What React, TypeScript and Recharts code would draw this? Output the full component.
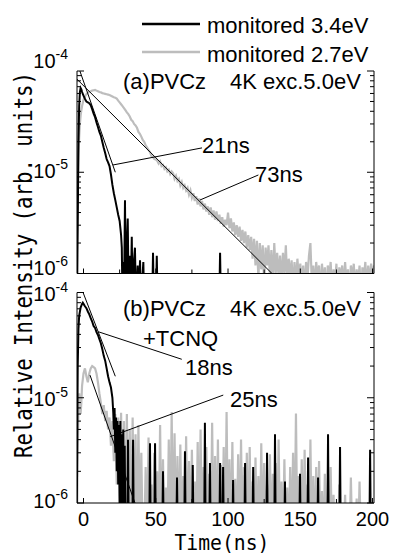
import { LineChart, Line, XAxis, YAxis, ReferenceLine } from 'recharts';

// intensities are written in units of 1e-6 (arb. units); < 1 means below the plot floor
const UNIT = 1e-6;

const timeTicks = [0, 25, 50, 75, 100, 125, 150, 175, 200];
const timeLabels = [0, 50, 100, 150, 200];
const intensityTicks = [
  1e-6, 2e-6, 3e-6, 4e-6, 5e-6, 6e-6, 7e-6, 8e-6, 9e-6,
  1e-5, 2e-5, 3e-5, 4e-5, 5e-5, 6e-5, 7e-5, 8e-5, 9e-5,
  1e-4,
];
const seriesNames = ['monitored 3.4eV', 'monitored 2.7eV'];
const seriesColors = ['#000000', '#bdbdbd'];

// (a) PVCz, monitored 3.4eV
const blackA: [number, number][] = [
  [-5, 0.4], [-4.5, 0.5], [-4, 3], [-3.5, 20], [-3, 45], [-2.5, 62], [-2, 68], [-1.5, 66], [-1, 62],
  [0, 57], [1, 53], [2, 50], [3, 49], [4, 48], [5, 46], [6, 42], [7, 38], [8, 35], [9, 31],
  [10, 28], [11, 25], [12, 23], [13, 20], [14, 17.5], [15, 15.5], [16, 13.5], [17, 12.5], [18, 11.5],
  [19, 9.5], [20, 7.5], [21, 6.2], [22, 5.3], [23, 4.5], [24, 3.8], [25, 3.3], [26, 2.4], [26.5, 1.8],
  [27, 0.5], [27.5, 1.3], [28, 0.5], [28.7, 5.3], [29.3, 0.5], [30, 2], [30.6, 3.5], [31.3, 0.5],
  [32, 1.5], [32.6, 0.5], [33.4, 2.3], [34, 0.5], [35, 1.4], [35.6, 1.8], [36.3, 0.5], [37.5, 1.2],
  [38.3, 0.5], [39.1, 1.35], [39.8, 0.5], [41.4, 1.3], [42, 0.5], [47.5, 0.5], [48.1, 1.6], [48.7, 0.5],
  [50.1, 0.5], [50.7, 1.5], [51.3, 0.5], [93.9, 0.5], [94.5, 1.6], [95.1, 0.5], [201, 0.4],
];

// (a) PVCz, monitored 2.7eV
const grayA: [number, number][] = [
  [-5, 0.4], [-4.5, 2], [-4, 8], [-3.5, 15], [-3, 22], [-2.5, 30], [-2, 36], [-1.5, 41], [-1, 45],
  [0, 52], [1, 56], [2, 59], [3, 61], [4, 62.5], [5, 63], [6, 64], [7, 64.5], [8, 65], [9, 64],
  [10, 63], [11, 62], [12, 61.5], [13, 60.5], [14, 60], [15, 59.5], [16, 59], [17, 58.5], [18, 58],
  [19, 57], [20, 56], [21, 55], [22, 54.5], [23, 53.5], [24, 51], [25, 49], [26, 47], [27, 45],
  [28, 43], [29, 41], [30, 39], [31, 37.5], [32, 35.5], [33, 33], [34, 32], [35, 30], [36, 29],
  [37, 27.5], [38, 25], [39, 24], [40, 22.5], [41, 20.8], [42, 20], [43, 18.5], [44, 17.5], [45, 16.5],
  [46, 15.8], [47, 14.5], [48, 14.2], [49, 13.5], [50, 13.4], [51, 13], [52, 12.2], [53, 12.8],
  [54, 11.5], [55, 11.8], [56, 10.8], [57, 11.2], [58, 10.2], [59, 10.6], [60, 9.6], [61, 10.2],
  [62, 9.8], [63, 8.6], [64, 9.2], [65, 8.2], [66, 8.6], [67, 7.4], [68, 8], [69, 7], [70, 7.4],
  [71, 6.6], [72, 7], [73, 6], [74, 6.6], [75, 5.6], [76, 6.2], [77, 5.2], [78, 5.8], [79, 4.8],
  [80, 5.5], [81, 4.6], [82, 5.2], [83, 4.3], [84, 4.9], [85, 4.1], [86, 4.6], [87, 3.8], [88, 4.5],
  [89, 3.6], [90, 4.2], [91, 3.4], [92, 4.1], [93, 3.3], [94, 3.8], [95, 3.1], [96, 3.6], [97, 2.9],
  [98, 3.4], [99, 3], [100, 4], [101, 2.8], [102, 3.5], [103, 2.6], [104, 3.2], [105, 2.4], [106, 3],
  [107, 2.3], [108, 2.9], [109, 2.1], [110, 2.7], [111, 2], [112, 2.6], [113, 1.8], [114, 2.4],
  [115, 1.7], [116, 2.3], [117, 1.4], [118, 2.2], [119, 1.2], [120, 2.1], [121, 0.9], [122, 2],
  [123, 1.1], [124, 1.9], [125, 0.8], [126, 1.8], [127, 1.2], [128, 1.9], [129, 0.9], [130, 1.7],
  [131, 0.8], [132, 2], [133, 1], [134, 1.6], [135, 0.9], [136, 1.5], [137, 0.8], [138, 1.6], [139, 1],
  [140, 1.9], [141, 0.8], [142, 1.4], [143, 0.9], [144, 1.35], [145, 0.7], [146, 1.3], [147, 0.8],
  [148, 1.4], [149, 0.9], [150, 1.25], [151, 0.8], [152, 1.2], [153, 0.7], [154, 1.3], [155, 0.9],
  [156, 1.5], [157, 2], [158, 0.8], [159, 1.2], [160, 0.7], [161, 1.3], [162, 0.9], [163, 1.2],
  [164, 0.6], [165, 1.25], [166, 0.8], [167, 1.15], [168, 0.6], [169, 1.2], [170, 0.9], [171, 1.3],
  [172, 0.7], [173, 1.1], [174, 0.8], [175, 1.25], [176, 0.6], [177, 1.15], [178, 0.9], [179, 1.2],
  [180, 0.7], [181, 1.3], [182, 0.8], [183, 1.1], [184, 0.6], [185, 1.2], [186, 0.9], [187, 1.25],
  [188, 0.7], [189, 1.1], [190, 0.8], [191, 1.2], [192, 0.6], [193, 1.15], [194, 0.9], [195, 1.3],
  [196, 0.7], [197, 1.2], [198, 0.8], [199, 1.25], [200, 0.9], [201, 1.2],
];

// (b) PVCz + TCNQ, monitored 3.4eV
const blackB: [number, number][] = [
  [-5, 0.4], [-4.5, 1.5], [-4, 20], [-3.5, 45], [-3, 60], [-2, 72], [-1, 78], [-0.5, 80], [0, 78],
  [1, 74], [2, 71], [3, 66], [4, 62], [5, 57], [6, 53], [7, 48], [8, 46], [9, 42], [10, 39.5],
  [11, 36], [12, 33], [13, 29], [14, 25], [15, 22.5], [16, 19], [17, 16], [18, 14], [19, 12.5],
  [20, 10], [20.6, 7.2], [21, 5], [21.5, 8], [22, 3], [22.5, 6.5], [23, 2], [23.5, 6], [24, 1.5],
  [24.5, 5.5], [25, 1], [25.5, 6], [26, 0.8], [26.5, 4.5], [27, 0.6], [27.5, 5], [28, 0.5],
  [28.5, 3.5], [29, 0.5], [30.3, 0.5], [30.8, 4], [31.3, 0.5], [33.8, 0.5], [34.3, 4], [34.8, 0.5],
  [45.5, 0.5], [46, 3.7], [46.5, 0.5], [49, 0.5], [49.5, 3.7], [50, 0.5], [54.5, 0.5], [55, 2],
  [55.5, 0.5], [64.2, 0.5], [64.7, 1.75], [65.2, 0.5], [69.7, 0.5], [70.2, 3.1], [70.7, 0.5],
  [75.1, 0.5], [75.6, 2.3], [76.1, 0.5], [83.5, 0.5], [84, 5.8], [84.5, 0.5], [87, 0.5], [87.5, 2.4],
  [88, 0.5], [94, 0.5], [94.5, 2.4], [95, 0.5], [96.1, 0.5], [96.6, 2.2], [97.1, 0.5], [103, 0.5],
  [103.5, 1.65], [104, 0.5], [111.3, 0.5], [111.8, 2.4], [112.3, 0.5], [116.9, 0.5], [117.4, 2.2],
  [117.9, 0.5], [126.5, 0.5], [127, 3], [127.5, 0.5], [132, 0.5], [132.5, 4.5], [133, 0.5],
  [138.9, 0.5], [139.4, 1.6], [139.9, 0.5], [149.3, 0.5], [149.8, 1.9], [150.3, 0.5], [154.9, 0.5],
  [155.4, 2.7], [155.9, 0.5], [161.8, 0.5], [162.3, 1.75], [162.8, 0.5], [168.7, 0.5], [169.2, 4.5],
  [169.7, 0.5], [177, 0.5], [177.5, 3.4], [178, 0.5], [197.8, 0.5], [198.3, 3.2], [198.8, 0.5],
  [201, 0.4],
];

// (b) PVCz + TCNQ, monitored 2.7eV
const grayB: [number, number][] = [
  [-5, 0.4], [-4.5, 0.5], [-4, 3], [-3.5, 8], [-3, 11], [-2.5, 9], [-2, 7], [-1.5, 9], [-1, 13],
  [0, 17], [1, 19], [2, 16], [3, 14], [4, 17], [5, 19], [6, 20], [7, 19.5], [8, 19], [9, 17],
  [10, 14], [11, 11], [12, 9], [13, 7], [14, 8.5], [15, 6], [16, 7.5], [17, 5], [18, 6.5], [19, 3.5],
  [20, 6], [21, 2.5], [22, 7], [23, 1.5], [24, 6.5], [25, 1], [26, 7.2], [27, 0.7], [28, 6],
  [29, 0.5], [30, 7], [31, 0.6], [32, 5], [33, 0.5], [34, 6.5], [35, 0.5], [36, 4.5], [37, 0.4],
  [38, 5.5], [39, 0.5], [40, 3], [41, 0.4], [42, 0.4], [43, 2.2], [44, 0.4], [45, 4.2], [46, 0.4],
  [47, 1.5], [48, 0.4], [49, 3], [50, 0.4], [51, 2], [52, 0.4], [53, 5.5], [54, 0.4], [55, 2.6],
  [56, 0.4], [57, 1.4], [58, 0.4], [59, 4], [60, 0.4], [61, 7.3], [62, 0.4], [63, 4.6], [64, 0.4],
  [65, 2.8], [66, 0.4], [67, 3.6], [68, 0.4], [69, 1.8], [70, 0.4], [71, 4.3], [72, 0.4], [73, 2.5],
  [74, 0.4], [75, 3.2], [76, 0.4], [77, 1.6], [78, 0.4], [79, 3.8], [80, 0.4], [81, 5], [82, 0.4],
  [83, 2.2], [84, 0.4], [85, 3.4], [86, 0.4], [87, 1.9], [88, 0.4], [89, 5.8], [90, 0.4], [91, 2.8],
  [92, 0.4], [93, 4], [94, 0.4], [95, 2.3], [96, 0.4], [97, 3.4], [98, 0.4], [99, 7.3], [100, 0.4],
  [101, 2.6], [102, 0.4], [103, 3.8], [104, 0.4], [105, 1.7], [106, 0.4], [107, 2.9], [108, 0.4],
  [109, 4], [110, 0.4], [111, 2.2], [112, 0.4], [113, 3], [114, 0.4], [115, 3.4], [116, 0.4],
  [117, 1.6], [118, 0.4], [119, 2.7], [120, 0.4], [121, 1.8], [122, 0.4], [123, 3.7], [124, 0.4],
  [125, 2.4], [126, 0.4], [127, 1.5], [128, 0.4], [129, 2.9], [130, 0.4], [131, 1.9], [132, 0.4],
  [133, 2.4], [134, 0.4], [135, 4], [136, 0.4], [137, 1.6], [138, 0.4], [139, 2.6], [140, 0.4],
  [141, 1.4], [142, 0.4], [143, 2.2], [144, 0.4], [145, 3], [146, 0.4], [147, 7.1], [148, 0.4],
  [149, 1.8], [150, 0.4], [151, 2.6], [152, 0.4], [153, 3.2], [154, 0.4], [155, 1.5], [156, 0.4],
  [157, 4], [158, 0.4], [159, 1.8], [160, 0.4], [161, 2.2], [162, 0.4], [163, 2.5], [164, 0.4],
  [165, 1.3], [166, 0.4], [167, 1.9], [168, 0.4], [169, 0.8], [170, 0.4], [171, 2.2], [172, 0.4],
  [173, 1.2], [174, 0.4], [175, 0.7], [176, 0.4], [177, 1.5], [178, 0.4], [179, 0.6], [180, 0.4],
  [181, 1.2], [182, 0.4], [183, 0.5], [184, 0.4], [185, 1.75], [186, 0.4], [187, 0.6], [188, 0.4],
  [189, 1.1], [190, 0.4], [191, 1.6], [192, 0.4], [201, 0.4],
];

// single-exponential fits (thin lines) and the pointers from fit to label
const fitA21: [number, number][] = [[-2.5, 100], [22, 10]];
const fitA73: [number, number][] = [[-4.5, 83], [130.4, 1]];
const fitB18: [number, number][] = [[-0.3, 100], [22, 16]];
const fitB25: [number, number][] = [[4.5, 16.4], [35.6, 1]];
const pointerA21: [number, number][] = [[20.4, 11.8], [82, 17.4]];
const pointerA73: [number, number][] = [[80.6, 5.32], [121, 9.4]];
const pointerB18: [number, number][] = [[10.2, 42.4], [68, 23.2]];
const pointerB25: [number, number][] = [[18.5, 4.27], [96.7, 10.6]];

const W = 395;
const H = 554;
const SANS = 'Liberation Sans, Arial, sans-serif';
const MONO = 'DejaVu Sans Mono, monospace';

const toRows = (pts: [number, number][]) => pts.map(([t, v]) => ({ t, v: v * UNIT }));

const isDecade = (v: number) => Math.abs(Math.log10(v) - Math.round(Math.log10(v))) < 1e-6;

function XTick(props: any) {
  const { x, y, payload, dir, showLabel } = props;
  const major = payload.value % 50 === 0;
  const len = major ? 5 : 4;
  return (
    <g>
      <line x1={x} x2={x} y1={y} y2={y + dir * len} stroke="#000" strokeWidth={1} />
      {showLabel && timeLabels.includes(payload.value) && (
        <text x={x} y={y + 23} textAnchor="middle" fontFamily={SANS} fontSize={20} fill="#000">
          {payload.value}
        </text>
      )}
    </g>
  );
}

function YTick(props: any) {
  const { x, y, payload, dir, showLabel, labelDy } = props;
  const v = payload.value;
  const decade = isDecade(v);
  const len = decade ? 7 : 4;
  const exp = Math.round(Math.log10(v));
  return (
    <g>
      <line x1={x} x2={x + dir * len} y1={y} y2={y} stroke="#000" strokeWidth={1} />
      {showLabel && decade && (
        <text x={x - 9} y={y + (labelDy[exp] ?? 6)} textAnchor="end" fontFamily={SANS} fontSize={20} fill="#000">
          10
          <tspan fontSize={14} dy={-9}>{String(exp)}</tspan>
        </text>
      )}
    </g>
  );
}

interface PanelProps {
  top: number;
  height: number;
  marginTop: number;
  bottomHeight: number;
  black: [number, number][];
  gray: [number, number][];
  fits: [number, number][][];
  pointers: [number, number][][];
  labelDy: Record<number, number>;
  showTimeLabels: boolean;
}

function Panel({ top, height, marginTop, bottomHeight, black, gray, fits, pointers, labelDy, showTimeLabels }: PanelProps) {
  const xDomain: [number, number] = [-4.5, 201];
  const yDomain: [number, number] = [1e-6, 1e-4];
  return (
    <div style={{ position: 'absolute', left: 0, top }}>
      <LineChart width={W} height={height} margin={{ top: marginTop, right: 0, bottom: 0, left: 0 }}>
        <XAxis
          xAxisId="b"
          type="number"
          dataKey="t"
          domain={xDomain}
          ticks={timeTicks}
          interval={0}
          allowDataOverflow
          height={bottomHeight}
          tickSize={0}
          tickMargin={0}
          tickLine={false}
          axisLine={{ stroke: '#000' }}
          tick={(p: any) => <XTick {...p} dir={-1} showLabel={showTimeLabels} />}
        />
        <XAxis
          xAxisId="t"
          orientation="top"
          type="number"
          dataKey="t"
          domain={xDomain}
          ticks={timeTicks}
          interval={0}
          allowDataOverflow
          height={0}
          tickSize={0}
          tickMargin={0}
          tickLine={false}
          axisLine={{ stroke: '#000' }}
          tick={(p: any) => <XTick {...p} dir={1} showLabel={false} />}
        />
        <YAxis
          yAxisId="l"
          type="number"
          scale="log"
          dataKey="v"
          domain={yDomain}
          ticks={intensityTicks}
          interval={0}
          allowDataOverflow
          width={77}
          tickSize={0}
          tickMargin={0}
          tickLine={false}
          axisLine={{ stroke: '#000' }}
          tick={(p: any) => <YTick {...p} dir={1} showLabel labelDy={labelDy} />}
        />
        <YAxis
          yAxisId="r"
          orientation="right"
          type="number"
          scale="log"
          dataKey="v"
          domain={yDomain}
          ticks={intensityTicks}
          interval={0}
          allowDataOverflow
          width={21}
          tickSize={0}
          tickMargin={0}
          tickLine={false}
          axisLine={{ stroke: '#000' }}
          tick={(p: any) => <YTick {...p} dir={-1} showLabel={false} labelDy={labelDy} />}
        />
        <Line xAxisId="b" yAxisId="l" data={toRows(gray)} dataKey="v" stroke={seriesColors[1]} strokeWidth={2.2} dot={false} isAnimationActive={false} />
        <Line xAxisId="b" yAxisId="l" data={toRows(black)} dataKey="v" stroke={seriesColors[0]} strokeWidth={2} dot={false} isAnimationActive={false} />
        {fits.map((f, i) => (
          <Line key={`fit${i}`} xAxisId="b" yAxisId="l" data={toRows(f)} dataKey="v" stroke="#000" strokeWidth={1} dot={false} isAnimationActive={false} />
        ))}
        {pointers.map((p, i) => (
          <ReferenceLine
            key={`ptr${i}`}
            xAxisId="b"
            yAxisId="l"
            segment={[{ x: p[0][0], y: p[0][1] * UNIT }, { x: p[1][0], y: p[1][1] * UNIT }]}
            stroke="#000"
            strokeWidth={1}
          />
        ))}
      </LineChart>
    </div>
  );
}

export default function App() {
  return (
    <div style={{ position: 'absolute', left: 0, top: 0, width: W, height: H, background: '#fff' }}>
      <Panel
        top={0}
        height={280}
        marginTop={71}
        bottomHeight={6.5}
        black={blackA}
        gray={grayA}
        fits={[fitA21, fitA73]}
        pointers={[pointerA21, pointerA73]}
        labelDy={{ [-4]: -3, [-5]: 6, [-6]: 1 }}
        showTimeLabels={false}
      />
      <Panel
        top={270}
        height={284}
        marginTop={22.5}
        bottomHeight={51}
        black={blackB}
        gray={grayB}
        fits={[fitB18, fitB25]}
        pointers={[pointerB18, pointerB25]}
        labelDy={{ [-4]: 8, [-5]: 8, [-6]: 5 }}
        showTimeLabels
      />
      <svg width={W} height={H} style={{ position: 'absolute', left: 0, top: 0, pointerEvents: 'none' }}>
        {seriesNames.map((name, i) => (
          <g key={name}>
            <line x1={142} x2={200} y1={24 + i * 28} y2={24 + i * 28} stroke={seriesColors[i]} strokeWidth={2.5} />
            <text x={207} y={33 + i * 29} fontFamily={SANS} fontSize={22} fill="#000">{name}</text>
          </g>
        ))}
        <text x={123} y={89} fontFamily={SANS} fontSize={22}>(a)PVCz</text>
        <text x={230} y={89} fontFamily={SANS} fontSize={22}>4K exc.5.0eV</text>
        <text x={202} y={153} fontFamily={SANS} fontSize={22}>21ns</text>
        <text x={255} y={182} fontFamily={SANS} fontSize={22}>73ns</text>
        <text x={123} y={316} fontFamily={SANS} fontSize={22}>(b)PVCz</text>
        <text x={230} y={316} fontFamily={SANS} fontSize={22}>4K exc.5.0eV</text>
        <text x={143} y={346} fontFamily={SANS} fontSize={22}>+TCNQ</text>
        <text x={185} y={375} fontFamily={SANS} fontSize={22}>18ns</text>
        <text x={230} y={407} fontFamily={SANS} fontSize={22}>25ns</text>
        <text
          transform="translate(32,265) rotate(-90)"
          textAnchor="middle"
          fontFamily={MONO}
          fontSize={24}
          textLength={386}
          lengthAdjust="spacingAndGlyphs"
        >
          Relative Intensity (arb. units)
        </text>
        <text x={222} y={550} textAnchor="middle" fontFamily={MONO} fontSize={22} textLength={95} lengthAdjust="spacingAndGlyphs">
          Time(ns)
        </text>
      </svg>
    </div>
  );
}
